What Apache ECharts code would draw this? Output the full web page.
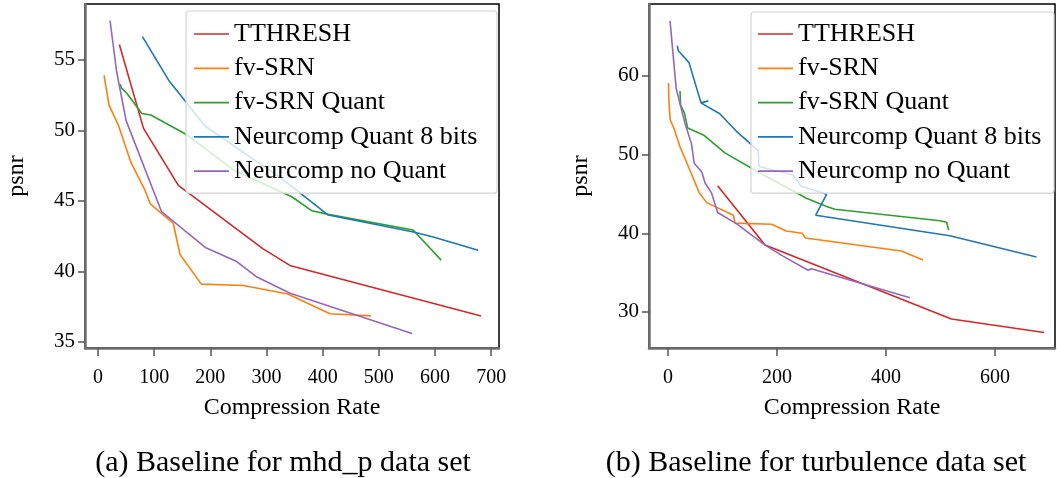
<!DOCTYPE html>
<html>
<head>
<meta charset="utf-8">
<script src="https://cdn.jsdelivr.net/npm/echarts@6/dist/echarts.min.js"></script>
<style>
html,body{margin:0;padding:0;background:#fff;}
#chart{width:1057px;height:478px;}
</style>
</head>
<body>
<div id="chart"></div>
<script>
// ---- tick labels ----
const leftXTicks = [0, 100, 200, 300, 400, 500, 600, 700];
const leftYTicks = [35, 40, 45, 50, 55];
const rightXTicks = [0, 200, 400, 600];
const rightYTicks = [30, 40, 50, 60];

// ---- series names ----
const seriesNames = ['TTHRESH', 'fv-SRN', 'fv-SRN Quant', 'Neurcomp Quant 8 bits', 'Neurcomp no Quant'];
const seriesColors = ['#d62728', '#ff7f0e', '#2ca02c', '#1f77b4', '#9467bd'];

// ---- (a) mhd_p : [compression rate, psnr] ----
const mhdTTHRESH = [[38, 56.1], [81, 50.15], [143, 46.1], [294, 41.6], [343, 40.4], [682, 36.84]];
const mhdFvSRN = [[10.7, 53.9], [19.6, 51.8], [36, 50.4], [59, 47.7], [82, 45.9], [93, 44.8], [134, 43.4], [146, 41.2], [184, 39.1], [259, 39.0], [338, 38.4], [413, 37.0], [486, 36.85]];
const mhdFvSRNQuant = [[39, 53.3], [42, 53.0], [52, 52.6], [78, 51.2], [94, 51.1], [158, 49.7], [241, 47.2], [345, 45.3], [381, 44.3], [410, 44.05], [561, 42.94], [611, 40.8]];
const mhdNeurQuant8 = [[79, 56.65], [126, 53.55], [191, 50.3], [330, 46.5], [410, 44.0], [562, 42.8], [597, 42.45], [677, 41.5]];
const mhdNeurNoQuant = [[21.4, 57.8], [33, 54.2], [50, 50.7], [113, 44.25], [191, 41.7], [247, 40.7], [283, 39.6], [342, 38.45], [559, 35.6]];

// ---- (b) turbulence : [compression rate, psnr] ----
const turbTTHRESH = [[91, 46.05], [178, 38.5], [520, 29.1], [690, 27.4]];
const turbFvSRN = [[1, 59.1], [1.5, 56.9], [4, 54.4], [10, 53.5], [22, 51.0], [40, 48.05], [57, 45.2], [71, 43.9], [120, 42.3], [123, 41.3], [190, 41.15], [217, 40.3], [246, 40.0], [252, 39.4], [428, 37.75], [468, 36.6]];
const turbFvSRNQuant = [[22, 58.1], [23, 56.3], [30, 55.3], [36, 53.4], [65, 52.5], [105, 50.2], [159, 48.05], [254, 44.45], [291, 43.4], [306, 43.05], [499, 41.6], [511, 41.4], [515, 40.4]];
const turbNeurQuant8 = [[17, 63.85], [19, 63.2], [38.5, 61.7], [60.5, 56.6], [74, 56.85], [61, 56.55], [95, 55.2], [125, 53.0], [165.5, 50.5], [167, 48.5], [229, 47.4], [244, 46.0], [291, 44.96], [271, 42.3], [517, 39.7], [676, 37.0]];
const turbNeurNoQuant = [[3.7, 67.0], [15, 58.4], [31, 54.0], [43, 51.4], [48, 48.9], [62, 47.8], [68, 46.4], [80, 45.1], [91, 42.65], [126, 41.2], [178, 38.5], [211, 37.1], [257, 35.3], [263, 35.5], [444, 31.8]];

// ---- texts ----
const xAxisTitle = 'Compression Rate';
const yAxisTitle = 'psnr';
const captionA = '(a) Baseline for mhd_p data set';
const captionB = '(b) Baseline for turbulence data set';

const FONT = 'Liberation Serif';
const mhdSets = [mhdTTHRESH, mhdFvSRN, mhdFvSRNQuant, mhdNeurQuant8, mhdNeurNoQuant];
const turbSets = [turbTTHRESH, turbFvSRN, turbFvSRNQuant, turbNeurQuant8, turbNeurNoQuant];

function makeX(idx, min, max, ticks) {
  return {
    type: 'value', gridIndex: idx, min: min, max: max,
    name: xAxisTitle, nameLocation: 'middle', nameGap: 48,
    nameTextStyle: { fontFamily: FONT, fontSize: 24, color: '#000' },
    axisLine: { show: true, onZero: false, lineStyle: { color: '#707070', width: 2.5 } },
    axisTick: { show: true, customValues: ticks, length: 8, lineStyle: { color: '#555', width: 1.5 } },
    axisLabel: { customValues: ticks, margin: 20, fontFamily: FONT, fontSize: 20, color: '#000' },
    splitLine: { show: false }
  };
}
function makeY(idx, min, max, ticks) {
  return {
    type: 'value', gridIndex: idx, min: min, max: max,
    name: yAxisTitle, nameLocation: 'middle', nameGap: 56, nameRotate: 90,
    nameTextStyle: { fontFamily: FONT, fontSize: 24, color: '#000' },
    axisLine: { show: true, onZero: false, lineStyle: { color: '#707070', width: 2.5 } },
    axisTick: { show: true, customValues: ticks, length: 7, lineStyle: { color: '#555', width: 1.5 } },
    axisLabel: { customValues: ticks, margin: 10, fontFamily: FONT, fontSize: 21, color: '#000' },
    splitLine: { show: false }
  };
}
const legendLineIcon = 'path://M0,0 L35,0 L35,1.7 L0,1.7 Z';
function makeLegend(left, top, padding) {
  return {
    data: seriesNames.map(function (n) { return { name: n, icon: legendLineIcon }; }),
    orient: 'vertical', left: left, top: top,
    padding: padding, itemWidth: 35, itemHeight: 20, itemGap: 8.3,
    backgroundColor: 'rgba(255,255,255,0.8)', borderColor: '#d4d4d4', borderWidth: 1.2, borderRadius: 3,
    selectedMode: false,
    textStyle: { fontFamily: FONT, fontSize: 26, color: '#000', width: 250, lineHeight: 20 }
  };
}

const series = [];
[mhdSets, turbSets].forEach(function (sets, g) {
  sets.forEach(function (d, i) {
    series.push({
      name: seriesNames[i], type: 'line', xAxisIndex: g, yAxisIndex: g,
      data: d, symbol: 'none', color: seriesColors[i],
      lineStyle: { width: 1.6, color: seriesColors[i] }, animation: false
    });
  });
});

const chart = echarts.init(document.getElementById('chart'), null, { renderer: 'canvas' });
chart.setOption({
  animation: false,
  grid: [
    { left: 85, top: 4, width: 414, height: 344, show: true, borderColor: '#000', borderWidth: 1.5, backgroundColor: 'transparent' },
    { left: 649, top: 4, width: 406, height: 344, show: true, borderColor: '#000', borderWidth: 1.5, backgroundColor: 'transparent' }
  ],
  xAxis: [makeX(0, -23.2, 714, leftXTicks), makeX(1, -34.9, 710, rightXTicks)],
  yAxis: [makeY(0, 34.57, 58.97, leftYTicks), makeY(1, 25.42, 69.15, rightYTicks)],
  legend: [makeLegend(186, 11, [10, 13, 9, 8]), makeLegend(751, 12, [9, 6, 9, 7])],
  graphic: [
    { type: 'text', x: 283, y: 463, style: { text: captionA, fontFamily: FONT, fontSize: 30, fill: '#000', textAlign: 'center', textVerticalAlign: 'middle' } },
    { type: 'text', x: 816, y: 463, style: { text: captionB, fontFamily: FONT, fontSize: 30, fill: '#000', textAlign: 'center', textVerticalAlign: 'middle' } }
  ],
  series: series
});
</script>
</body>
</html>
